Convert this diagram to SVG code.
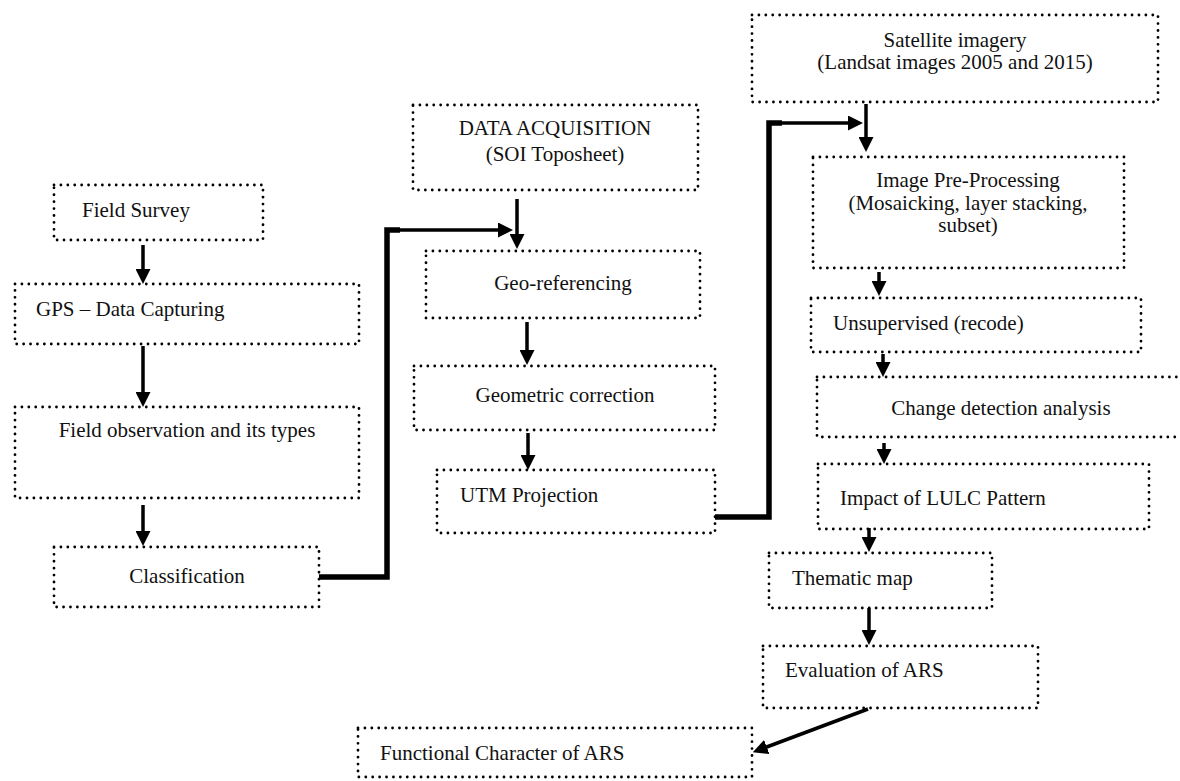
<svg xmlns="http://www.w3.org/2000/svg" width="1180" height="781" viewBox="0 0 1180 781">
<style>
.box{fill:none;stroke:#000;stroke-width:2.8;stroke-linecap:round;stroke-dasharray:0.01 6.9}
.t{font-family:"Liberation Serif","Times New Roman",serif;font-size:21px;fill:#111}
.m{text-anchor:middle}
.a{fill:none;stroke:#000;stroke-width:3.5}
.k{fill:none;stroke:#000;stroke-width:5.5;stroke-linejoin:miter}
</style>
<defs>
<marker id="ah" markerUnits="userSpaceOnUse" markerWidth="15" markerHeight="15" refX="3" refY="7.5" orient="auto">
<path d="M0,0 L15,7.5 L0,15 z" fill="#000"/>
</marker>
</defs>
<rect width="1180" height="781" fill="#fff"/>
<g id="connectors">
<line class="a" x1="143" y1="245" x2="143" y2="272" marker-end="url(#ah)"/>
<line class="a" x1="143" y1="346" x2="143" y2="395" marker-end="url(#ah)"/>
<line class="a" x1="143" y1="505" x2="143" y2="534" marker-end="url(#ah)"/>
<path class="k" d="M319,577 H387 V230 H400"/>
<line class="a" x1="398" y1="230" x2="501" y2="230" stroke-width="4.5" marker-end="url(#ah)"/>
<line class="a" x1="517" y1="199" x2="517" y2="237" marker-end="url(#ah)"/>
<line class="a" x1="527" y1="322" x2="527" y2="353" marker-end="url(#ah)"/>
<line class="a" x1="528" y1="433" x2="528" y2="458" marker-end="url(#ah)"/>
<path class="k" d="M715,517 H769 V123 H782"/>
<line class="a" x1="780" y1="123" x2="851" y2="123" stroke-width="4.5" marker-end="url(#ah)"/>
<line class="a" x1="866" y1="104" x2="866" y2="140" marker-end="url(#ah)"/>
<line class="a" x1="879" y1="272" x2="879" y2="284" marker-end="url(#ah)"/>
<line class="a" x1="883" y1="354" x2="883" y2="365" marker-end="url(#ah)"/>
<line class="a" x1="884" y1="443" x2="884" y2="452" marker-end="url(#ah)"/>
<line class="a" x1="869" y1="528" x2="869" y2="540" marker-end="url(#ah)"/>
<line class="a" x1="869" y1="608" x2="869" y2="633" marker-end="url(#ah)"/>
<line class="a" x1="868" y1="709" x2="764" y2="748" stroke-width="4.5" marker-end="url(#ah)"/>
</g>
<g id="field-survey"><rect class="box" x="54" y="185" width="209" height="55"/><text class="t" x="82" y="217">Field Survey</text></g>
<g id="gps"><rect class="box" x="15" y="284" width="344" height="60"/><text class="t" x="36" y="316">GPS – Data Capturing</text></g>
<g id="field-observation"><rect class="box" x="15" y="407" width="344" height="91"/><text class="t m" x="187" y="437">Field observation and its types</text></g>
<g id="classification"><rect class="box" x="54" y="547" width="265" height="60"/><text class="t m" x="187" y="583">Classification</text></g>
<g id="data-acquisition"><rect class="box" x="413" y="105" width="285" height="85"/><text class="t m" x="555" y="135">DATA ACQUISITION</text><text class="t m" x="555" y="161">(SOI Toposheet)</text></g>
<g id="geo-referencing"><rect class="box" x="426" y="251" width="274" height="67"/><text class="t m" x="563" y="290">Geo-referencing</text></g>
<g id="geometric-correction"><rect class="box" x="414" y="366" width="301" height="64"/><text class="t m" x="565" y="402">Geometric correction</text></g>
<g id="utm-projection"><rect class="box" x="437" y="470" width="278" height="63"/><text class="t" x="460" y="502">UTM Projection</text></g>
<g id="satellite-imagery"><rect class="box" x="752" y="15" width="406" height="87"/><text class="t m" x="955" y="47">Satellite imagery</text><text class="t m" x="955" y="69">(Landsat images 2005 and 2015)</text></g>
<g id="image-preprocessing"><rect class="box" x="813" y="157" width="311" height="111"/><text class="t m" x="968" y="187">Image Pre-Processing</text><text class="t m" x="968" y="210">(Mosaicking, layer stacking,</text><text class="t m" x="968" y="232">subset)</text></g>
<g id="unsupervised"><rect class="box" x="811" y="298" width="330" height="54"/><text class="t" x="833" y="330">Unsupervised (recode)</text></g>
<g id="change-detection"><rect class="box" x="817" y="377" width="370" height="60"/><text class="t m" x="1001" y="415">Change detection analysis</text></g>
<g id="impact-lulc"><rect class="box" x="818" y="464" width="331" height="65"/><text class="t" x="840" y="505">Impact of LULC Pattern</text></g>
<g id="thematic-map"><rect class="box" x="769" y="553" width="223" height="55"/><text class="t" x="792" y="585">Thematic map</text></g>
<g id="evaluation-ars"><rect class="box" x="763" y="646" width="275" height="62"/><text class="t" x="785" y="677">Evaluation of ARS</text></g>
<g id="functional-character"><rect class="box" x="358" y="728" width="394" height="49"/><text class="t" x="380" y="760">Functional Character of ARS</text></g>
</svg>
